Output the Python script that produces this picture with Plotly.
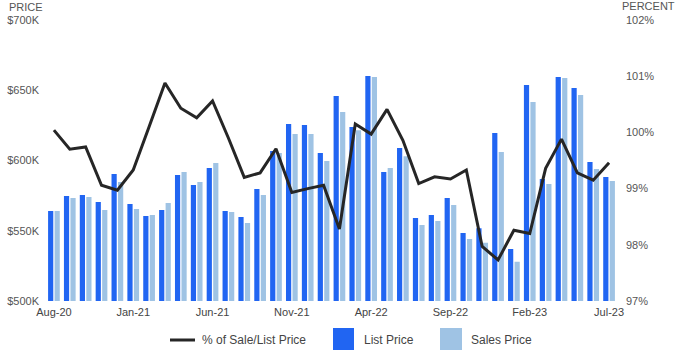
import plotly.graph_objects as go

# Monthly market data, Aug-2020 through Jul-2023
months = [
    "Aug-20", "Sep-20", "Oct-20", "Nov-20", "Dec-20", "Jan-21", "Feb-21", "Mar-21",
    "Apr-21", "May-21", "Jun-21", "Jul-21", "Aug-21", "Sep-21", "Oct-21", "Nov-21",
    "Dec-21", "Jan-22", "Feb-22", "Mar-22", "Apr-22", "May-22", "Jun-22", "Jul-22",
    "Aug-22", "Sep-22", "Oct-22", "Nov-22", "Dec-22", "Jan-23", "Feb-23", "Mar-23",
    "Apr-23", "May-23", "Jun-23", "Jul-23",
]

# Prices in thousands of dollars
list_price = [
    564, 574.7, 575.4, 570.5, 590.4, 569, 560.5, 564.8,
    589.7, 582.6, 594.7, 564, 559.8, 579.7, 606.8, 626,
    625.3, 605.3, 645.9, 623.8, 660.1, 591.8, 608.9, 559,
    561.2, 573.3, 548.4, 551.7, 619.6, 537, 653.7, 586.8,
    659.4, 651.6, 598.9, 588.3,
]
sales_price = [
    564, 573.3, 574, 564.8, 584.7, 565.5, 561.2, 569.8,
    591.8, 584.7, 598.2, 563.3, 555.5, 575.4, 605.3, 618.9,
    618.9, 599.6, 634.5, 621.5, 659.4, 594.7, 603, 554.1,
    556.9, 568.3, 544.1, 541.5, 606, 528, 641.6, 583.3,
    658.7, 646.6, 594, 585.4,
]
# Sale-to-list ratio, percent
sale_list_pct = [
    100.04, 99.70, 99.74, 99.06, 98.97, 99.33, 100.1, 100.88,
    100.43, 100.26, 100.56, 99.9, 99.20, 99.28, 99.71, 98.93,
    99.0, 99.06, 98.28, 100.15, 99.97, 100.41, 99.86, 99.09,
    99.21, 99.17, 99.33, 97.97, 97.73, 98.26, 98.20, 99.36,
    99.88, 99.28, 99.15, 99.46,
]

price_ticks = [500, 550, 600, 650, 700]
price_tick_text = ["$500K", "$550K", "$600K", "$650K", "$700K"]
pct_ticks = [97, 98, 99, 100, 101, 102]
pct_tick_text = ["97%", "98%", "99%", "100%", "101%", "102%"]
month_ticks = months[::5]

LIST_BLUE = "#2165f2"
SALES_BLUE = "#9fc3e4"
LINE_DARK = "#262626"
TEXT = "#555555"
FONT = "Liberation Sans, Arial, sans-serif"

# Plot-area geometry in pixels
PLOT_L, PLOT_R, PLOT_T, PLOT_B = 46, 617, 20, 301
PW, PH = PLOT_R - PLOT_L, PLOT_B - PLOT_T

fig = go.Figure()
fig.add_trace(go.Bar(x=months, y=list_price, name="List Price",
                     marker=dict(color=LIST_BLUE, line=dict(width=0)), showlegend=False))
fig.add_trace(go.Bar(x=months, y=sales_price, name="Sales Price",
                     marker=dict(color=SALES_BLUE, line=dict(width=0)), showlegend=False))
fig.add_trace(go.Scatter(x=months, y=sale_list_pct, name="% of Sale/List Price", yaxis="y2",
                         mode="lines", line=dict(color=LINE_DARK, width=3), showlegend=False))

fig.update_layout(
    width=700, height=350,
    margin=dict(l=PLOT_L, r=700 - PLOT_R, t=PLOT_T, b=350 - PLOT_B, autoexpand=False),
    paper_bgcolor="white", plot_bgcolor="white",
    font=dict(family=FONT, size=11, color=TEXT),
    barmode="group", bargap=0.18, bargroupgap=0.2,
    xaxis=dict(
        type="category", categoryorder="array", categoryarray=months,
        tickmode="array", tickvals=month_ticks, ticktext=month_ticks,
        showgrid=False, zeroline=False, showline=False, ticks="",
        ticklabelstandoff=3,
        tickfont=dict(size=11, color="#444444"), range=[-0.5, 35.5],
    ),
    yaxis=dict(
        range=[500, 700], tickvals=price_ticks, ticktext=price_tick_text,
        showgrid=False, zeroline=False, showline=False, ticks="",
        ticklabelstandoff=6, tickfont=dict(size=11, color=TEXT),
    ),
    yaxis2=dict(
        overlaying="y", side="right", range=[97, 102],
        tickvals=pct_ticks, ticktext=pct_tick_text,
        showgrid=False, zeroline=False, showline=False, ticks="",
        ticklabelstandoff=8, tickfont=dict(size=11, color=TEXT),
    ),
)


def px_x(v):
    return (v - PLOT_L) / PW


def px_y(v):
    return (PLOT_B - v) / PH


# Axis headings
fig.add_annotation(text="PRICE", xref="paper", yref="paper", x=px_x(7), y=px_y(7),
                   xanchor="left", yanchor="middle", showarrow=False,
                   font=dict(size=11, color=TEXT))
fig.add_annotation(text="PERCENT", xref="paper", yref="paper", x=px_x(620), y=px_y(6),
                   xanchor="left", yanchor="middle", showarrow=False,
                   font=dict(size=11, color=TEXT))

# Legend drawn along the bottom edge
legend_shapes = [
    dict(type="line", xref="paper", yref="paper", x0=px_x(170), x1=px_x(195),
         y0=px_y(340), y1=px_y(340), line=dict(color=LINE_DARK, width=3)),
    dict(type="rect", xref="paper", yref="paper", x0=px_x(333), x1=px_x(354),
         y0=px_y(351), y1=px_y(328), fillcolor=LIST_BLUE, line=dict(width=0)),
    dict(type="rect", xref="paper", yref="paper", x0=px_x(440), x1=px_x(462),
         y0=px_y(351), y1=px_y(328), fillcolor=SALES_BLUE, line=dict(width=0)),
]
for s in legend_shapes:
    fig.add_shape(**s)

for label, left in [("% of Sale/List Price", 200), ("List Price", 362), ("Sales Price", 469)]:
    fig.add_annotation(text=label, xref="paper", yref="paper", x=px_x(left), y=px_y(340),
                       xanchor="left", yanchor="middle", showarrow=False,
                       font=dict(size=12, color="#444444"))

fig.write_html("out.html")
